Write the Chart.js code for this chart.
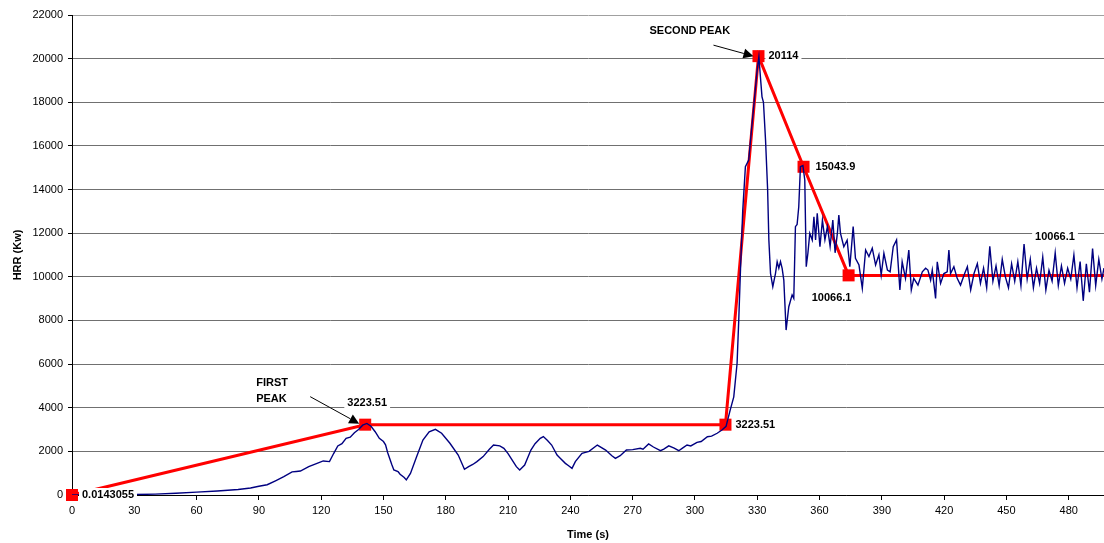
<!DOCTYPE html>
<html>
<head>
<meta charset="utf-8">
<script src="https://cdn.jsdelivr.net/npm/chart.js@4/dist/chart.umd.min.js"></script>
<style>
  body { margin: 0; background: #fff; }
  #wrap { width: 1104px; height: 543px; }
</style>
</head>
<body>
<div id="wrap"><canvas id="hrrChart" width="1104" height="543"></canvas></div>
<script>
const hrrTime = [
  0, 10, 20, 30, 40, 50, 60, 70, 80, 86, 90, 94, 98, 102, 106, 108, 110, 114, 118, 121,
  124, 126, 128, 130, 132, 134, 136, 138, 140, 142,
  144, 146, 148, 150, 151, 152, 154, 155, 157, 158, 160, 161, 163, 166, 169, 172, 175, 178, 182, 186,
  189, 191, 193, 195, 198, 201, 203, 206, 208, 210, 212, 214, 215.6, 218, 221, 223, 225.5, 227, 229, 231,
  233.6, 235, 237.6, 239, 240.8, 242.4, 245.6, 249, 253, 257, 260, 261.7, 264, 267, 270, 273.7, 275, 277.7, 280, 283.4,
  285, 287.4, 290, 292.2, 294, 296.2, 298, 301, 303, 306, 308, 310.7, 313, 315, 317, 318.7, 320.3, 321.1, 322, 323,
  324.3, 325.9, 327, 328.5, 330, 330.8, 331.5, 332.3, 333, 334, 335, 335.6, 336.4, 337.5, 338.8, 339.6, 340.4, 341.2, 342, 342.8,
  343.9, 345.2, 346.8, 347.6, 348.4, 349.2, 350, 350.8, 352, 352.9, 353.6, 354.4, 355.3, 356.5, 357.3, 358.1, 358.9, 360.2, 361.4, 362.6,
  363.8, 365.1, 366.4, 367.5, 368.6, 369.3, 370.1, 371.7, 373.3, 374.6, 376.2, 377.3, 379, 380.6, 382.2, 383.8, 385.4, 387, 388.6, 389.7,
  391, 392.7, 394, 395.5, 397.1, 398.7, 399.8, 401.4, 403, 404.2, 405.4, 407.4, 409.5, 411.1, 412.2, 413.5, 414.3, 415.9, 416.7, 418.3,
  419.9, 421.5, 422.3, 423.1, 424.7, 426.3, 427.9, 429.9, 431.2, 432.8, 434.4, 436, 437.5, 439, 440.5, 442, 443.5, 445, 446.5, 448,
  449.5, 451, 452.5, 454, 455.5, 457, 458.5, 460, 461.5, 463, 464.5, 466, 467.5, 469, 470.5, 472, 473.5, 475, 476.5, 478,
  479.5, 481, 482.5, 484, 485.5, 487, 488.5, 490, 491.5, 493, 494.5, 496, 497
];
const hrrValue = [
  0, 0, 5, 20, 40, 80, 130, 180, 250, 320, 400, 470, 650, 840, 1060, 1080, 1100, 1300, 1450, 1560,
  1530, 1900, 2250, 2350, 2600, 2650, 2850, 3000, 3200, 3280,
  3150, 2900, 2600, 2450, 2300, 1950, 1400, 1150, 1070, 950, 800, 690, 990, 1760, 2520, 2900, 3010, 2830, 2370, 1830,
  1180, 1300, 1400, 1530, 1760, 2100, 2290, 2250, 2140, 1900, 1600, 1300, 1150, 1370, 2060, 2350, 2600, 2680, 2500, 2290,
  1830, 1700, 1450, 1350, 1220, 1530, 1910, 2000, 2290, 2060, 1800, 1680, 1800, 2060, 2080, 2140, 2100, 2340, 2200, 2030,
  2100, 2250, 2150, 2030, 2150, 2290, 2250, 2410, 2450, 2670, 2700, 2830, 2980, 3150, 3900, 4500, 6040, 8020, 10500, 13000,
  15050, 15350, 16500, 18000, 19500, 20090, 19200, 18250, 18000, 16270, 14000, 11690, 10160, 9550, 10160, 10690, 10400, 10700, 10390, 9850,
  7560, 8630, 9170, 9010, 12300, 12400, 13210, 15050, 15100, 14440, 10460, 11080, 11990, 11690, 12750, 11690, 12910, 11380, 12600, 11700,
  12300, 11400, 12600, 11100, 12000, 12830, 11990, 11380, 11680, 10460, 12300, 10850, 10540, 9470, 11230, 10930, 11310, 10540, 11010, 10080,
  11080, 10310, 10230, 11380, 11690, 9400, 10690, 9930, 11230, 9400, 9930, 9620, 10230, 10390, 10310, 9850, 10310, 9010, 10690, 9700,
  10150, 10230, 11230, 10150, 10460, 9930, 9620, 10150, 10460, 9400, 10150, 10600, 9700, 10400, 9500, 11400, 9800, 10500, 9600, 10800,
  10000, 9500, 10600, 9800, 10700, 9600, 11500, 9900, 10800, 9500, 10400, 9700, 10900, 9400, 10300, 9800, 11100, 9600, 10500, 9700,
  10400, 9900, 11000, 9500, 10700, 8900, 10600, 9300, 11300, 9600, 10800, 9900, 10400
];

// simplified red profile
const peakTime = [0, 141.2, 314.7, 330.6, 352.3, 374, 497];
const peakValue = [0.0143055, 3223.51, 3223.51, 20114, 15043.9, 10066.1, 10066.1];
const peakLabels = ['0.0143055', '3223.51', '3223.51', '20114', '15043.9', '10066.1', '10066.1'];

const xTicksStep = 30;
const yTicks = [0, 2000, 4000, 6000, 8000, 10000, 12000, 14000, 16000, 18000, 20000, 22000];

const FONT = '"Liberation Sans", Arial, sans-serif';

// where each red label sits relative to its point (px) and how it is aligned
const labelPlace = [
  { dx: 10, dy: 0, align: 'left' },
  { dx: 2, dy: -22, align: 'center' },
  { dx: 10, dy: 0, align: 'left' },
  { dx: 10, dy: 0, align: 'left' },
  { dx: 12, dy: 0, align: 'left' },
  { dx: -17, dy: 23, align: 'center' },
  { dx: -49, dy: -38, align: 'center' }
];

function drawArrow(ctx, x1, y1, x2, y2) {
  const ang = Math.atan2(y2 - y1, x2 - x1);
  const len = 10, half = 5;
  ctx.save();
  ctx.strokeStyle = '#000';
  ctx.fillStyle = '#000';
  ctx.lineWidth = 1;
  ctx.beginPath();
  ctx.moveTo(x1, y1);
  ctx.lineTo(x2 - len * Math.cos(ang), y2 - len * Math.sin(ang));
  ctx.stroke();
  ctx.beginPath();
  ctx.moveTo(x2, y2);
  ctx.lineTo(x2 - len * Math.cos(ang) + half * Math.sin(ang), y2 - len * Math.sin(ang) - half * Math.cos(ang));
  ctx.lineTo(x2 - len * Math.cos(ang) - half * Math.sin(ang), y2 - len * Math.sin(ang) + half * Math.cos(ang));
  ctx.closePath();
  ctx.fill();
  ctx.restore();
}

const annotations = {
  id: 'annotations',
  afterDatasetsDraw(chart) {
    const ctx = chart.ctx;
    const xs = chart.scales.x, ys = chart.scales.y;
    ctx.save();
    ctx.font = 'bold 11px ' + FONT;
    ctx.textBaseline = 'middle';

    peakLabels.forEach((txt, i) => {
      const p = labelPlace[i];
      const px = xs.getPixelForValue(peakTime[i]) + p.dx;
      const py = ys.getPixelForValue(peakValue[i]) + p.dy;
      const w = ctx.measureText(txt).width;
      const left = p.align === 'center' ? px - w / 2 : px;
      ctx.fillStyle = '#fff';
      ctx.fillRect(left - 3, py - 7, w + 6, 14);
      ctx.fillStyle = '#000';
      ctx.textAlign = 'left';
      ctx.fillText(txt, left, py);
    });

    // peak callouts
    const p1x = xs.getPixelForValue(peakTime[1]), p1y = ys.getPixelForValue(peakValue[1]);
    ctx.fillText('FIRST', p1x - 109, p1y - 42);
    ctx.fillText('PEAK', p1x - 109, p1y - 26);
    drawArrow(ctx, p1x - 55, p1y - 28, p1x - 6, p1y - 1);

    const p3x = xs.getPixelForValue(peakTime[3]), p3y = ys.getPixelForValue(peakValue[3]);
    ctx.fillText('SECOND PEAK', p3x - 109, p3y - 25);
    drawArrow(ctx, p3x - 45, p3y - 11, p3x - 5, p3y);
    ctx.restore();
  }
};

new Chart(document.getElementById('hrrChart'), {
  type: 'line',
  data: {
    datasets: [
      {
        label: 'HRR',
        data: hrrTime.map((t, i) => ({ x: t, y: hrrValue[i] })),
        borderColor: '#000080',
        borderWidth: 1.4,
        pointRadius: 0,
        tension: 0,
        fill: false
      },
      {
        label: 'Peaks',
        data: peakTime.map((t, i) => ({ x: t, y: peakValue[i] })),
        borderColor: '#ff0000',
        backgroundColor: '#ff0000',
        borderWidth: 3,
        pointStyle: 'rect',
        pointRadius: peakTime.map((t, i) => i === peakTime.length - 1 ? 0 : 8.5),
        pointBorderWidth: 0,
        tension: 0,
        fill: false,
        clip: false
      }
    ]
  },
  options: {
    responsive: false,
    animation: false,
    events: [],
    layout: { autoPadding: false, padding: { top: 15, right: 0, left: 0, bottom: 0 } },
    plugins: {
      legend: { display: false },
      tooltip: { enabled: false }
    },
    scales: {
      x: {
        type: 'linear',
        min: 0,
        max: 497,
        afterFit: s => { s.height = 48; },
        border: { color: '#000', width: 1 },
        grid: { drawOnChartArea: false, drawTicks: true, tickLength: 5, tickColor: '#000' },
        ticks: {
          stepSize: xTicksStep,
          includeBounds: false,
          padding: 4,
          color: '#000',
          font: { family: FONT, size: 11 },
          maxRotation: 0
        },
        title: {
          display: true,
          text: 'Time (s)',
          color: '#000',
          font: { family: FONT, size: 11, weight: 'bold' },
          padding: { top: 0, bottom: 1 }
        }
      },
      y: {
        min: 0,
        max: 22000,
        afterFit: s => { s.width = 72; },
        afterBuildTicks: s => { s.ticks = yTicks.map(v => ({ value: v })); },
        border: { color: '#000', width: 1 },
        grid: {
          color: c => c.tick && c.tick.value === 22000 ? '#a0a0a0' : '#707070',
          lineWidth: 1,
          tickLength: 4,
          tickColor: '#000'
        },
        ticks: {
          padding: 5,
          color: '#000',
          font: { family: FONT, size: 11 },
          callback: v => String(v)
        },
        title: {
          display: true,
          text: 'HRR (Kw)',
          color: '#000',
          font: { family: FONT, size: 11, weight: 'bold' },
          padding: { top: 11, bottom: 0 }
        }
      }
    }
  },
  plugins: [annotations]
});
</script>
</body>
</html>
